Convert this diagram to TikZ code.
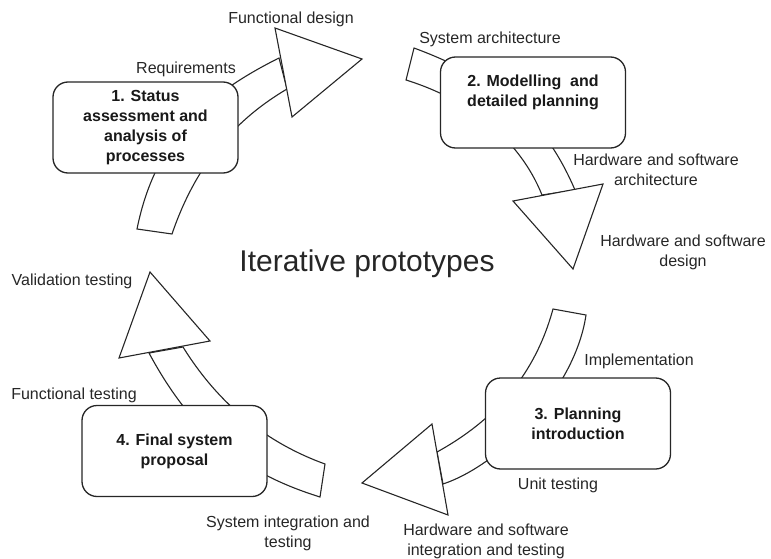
\documentclass[tikz,border=0pt]{standalone}
\usepackage{fontspec}
\setmainfont{Liberation Sans}
\begin{document}
\begin{tikzpicture}[x=1pt,y=-1pt,
  band/.style={draw=black!85, fill=white, line width=1.1pt, line join=miter},
  box/.style={draw=black!85, fill=white, line width=1.3pt, rounded corners=15pt,
    minimum width=185pt, minimum height=91pt, align=center, inner sep=0pt,
    font=\bfseries\fontsize{16}{20}\selectfont, text=black!90},
  lbl/.style={align=center, inner sep=0pt, font=\fontsize{16}{20}\selectfont, text=black!85}]
\useasboundingbox (0,0) rectangle (771,559);
% curved arrow bodies (drawn beneath the boxes) and their heads
\draw[band] (137,229) .. controls (155,140) and (205,95) .. (279,58) -- (287,89) .. controls (238,118) and (197,161) .. (172,234) -- cycle;
\draw[band] (275,28) -- (362,59) -- (292,117) -- cycle;
\draw[band] (414,48) .. controls (500,80) and (545,120) .. (575,190) -- (542,195) .. controls (520,140) and (470,100) .. (406,80) -- cycle;
\draw[band] (513,201) -- (603,184) -- (573,269) -- cycle;
\draw[band] (586,315) .. controls (575,390) and (500,465) .. (443,484) -- (437,452) .. controls (495,420) and (535,375) .. (553,309) -- cycle;
\draw[band] (432,424) -- (448,515) -- (362,483) -- cycle;
\draw[band] (320,497) .. controls (240,472) and (191,431) .. (149,353) -- (183,347) .. controls (219,405) and (267,443) .. (325,464) -- cycle;
\draw[band] (119,358) -- (150,272) -- (210,341) -- cycle;
% boxes
\node[box] (b1) at (145.5,127.5) {1. Status\\assessment and\\analysis of\\processes};
\node[box] (b2) at (533,102.5) {2. Modelling~ and\\detailed planning\\[4pt]};
\node[box] (b3) at (578,423.5) {3. Planning\\introduction};
\node[box] (b4) at (174.5,451) {4. Final system\\proposal};
% labels
\node[lbl] (fd) at (291,19) {Functional design};
\node[lbl] (req) at (186,69) {Requirements};
\node[lbl] (sa) at (490,39) {System architecture};
\node[lbl] (hsa) at (656,170) {Hardware and software\\architecture};
\node[lbl] (hsd) at (683,252) {Hardware and software\\design};
\node[lbl, font=\fontsize{30}{36}\selectfont] (iter) at (367,264) {Iterative prototypes};
\node[lbl] (impl) at (639,361) {Implementation};
\node[lbl] (unit) at (558,485) {Unit testing};
\node[lbl] (hsit) at (486,541) {Hardware and software\\integration and testing};
\node[lbl] (sit) at (288,533) {System integration and\\testing};
\node[lbl] (ft) at (74,395) {Functional testing};
\node[lbl] (vt) at (72,281) {Validation testing};
\end{tikzpicture}
\end{document}
